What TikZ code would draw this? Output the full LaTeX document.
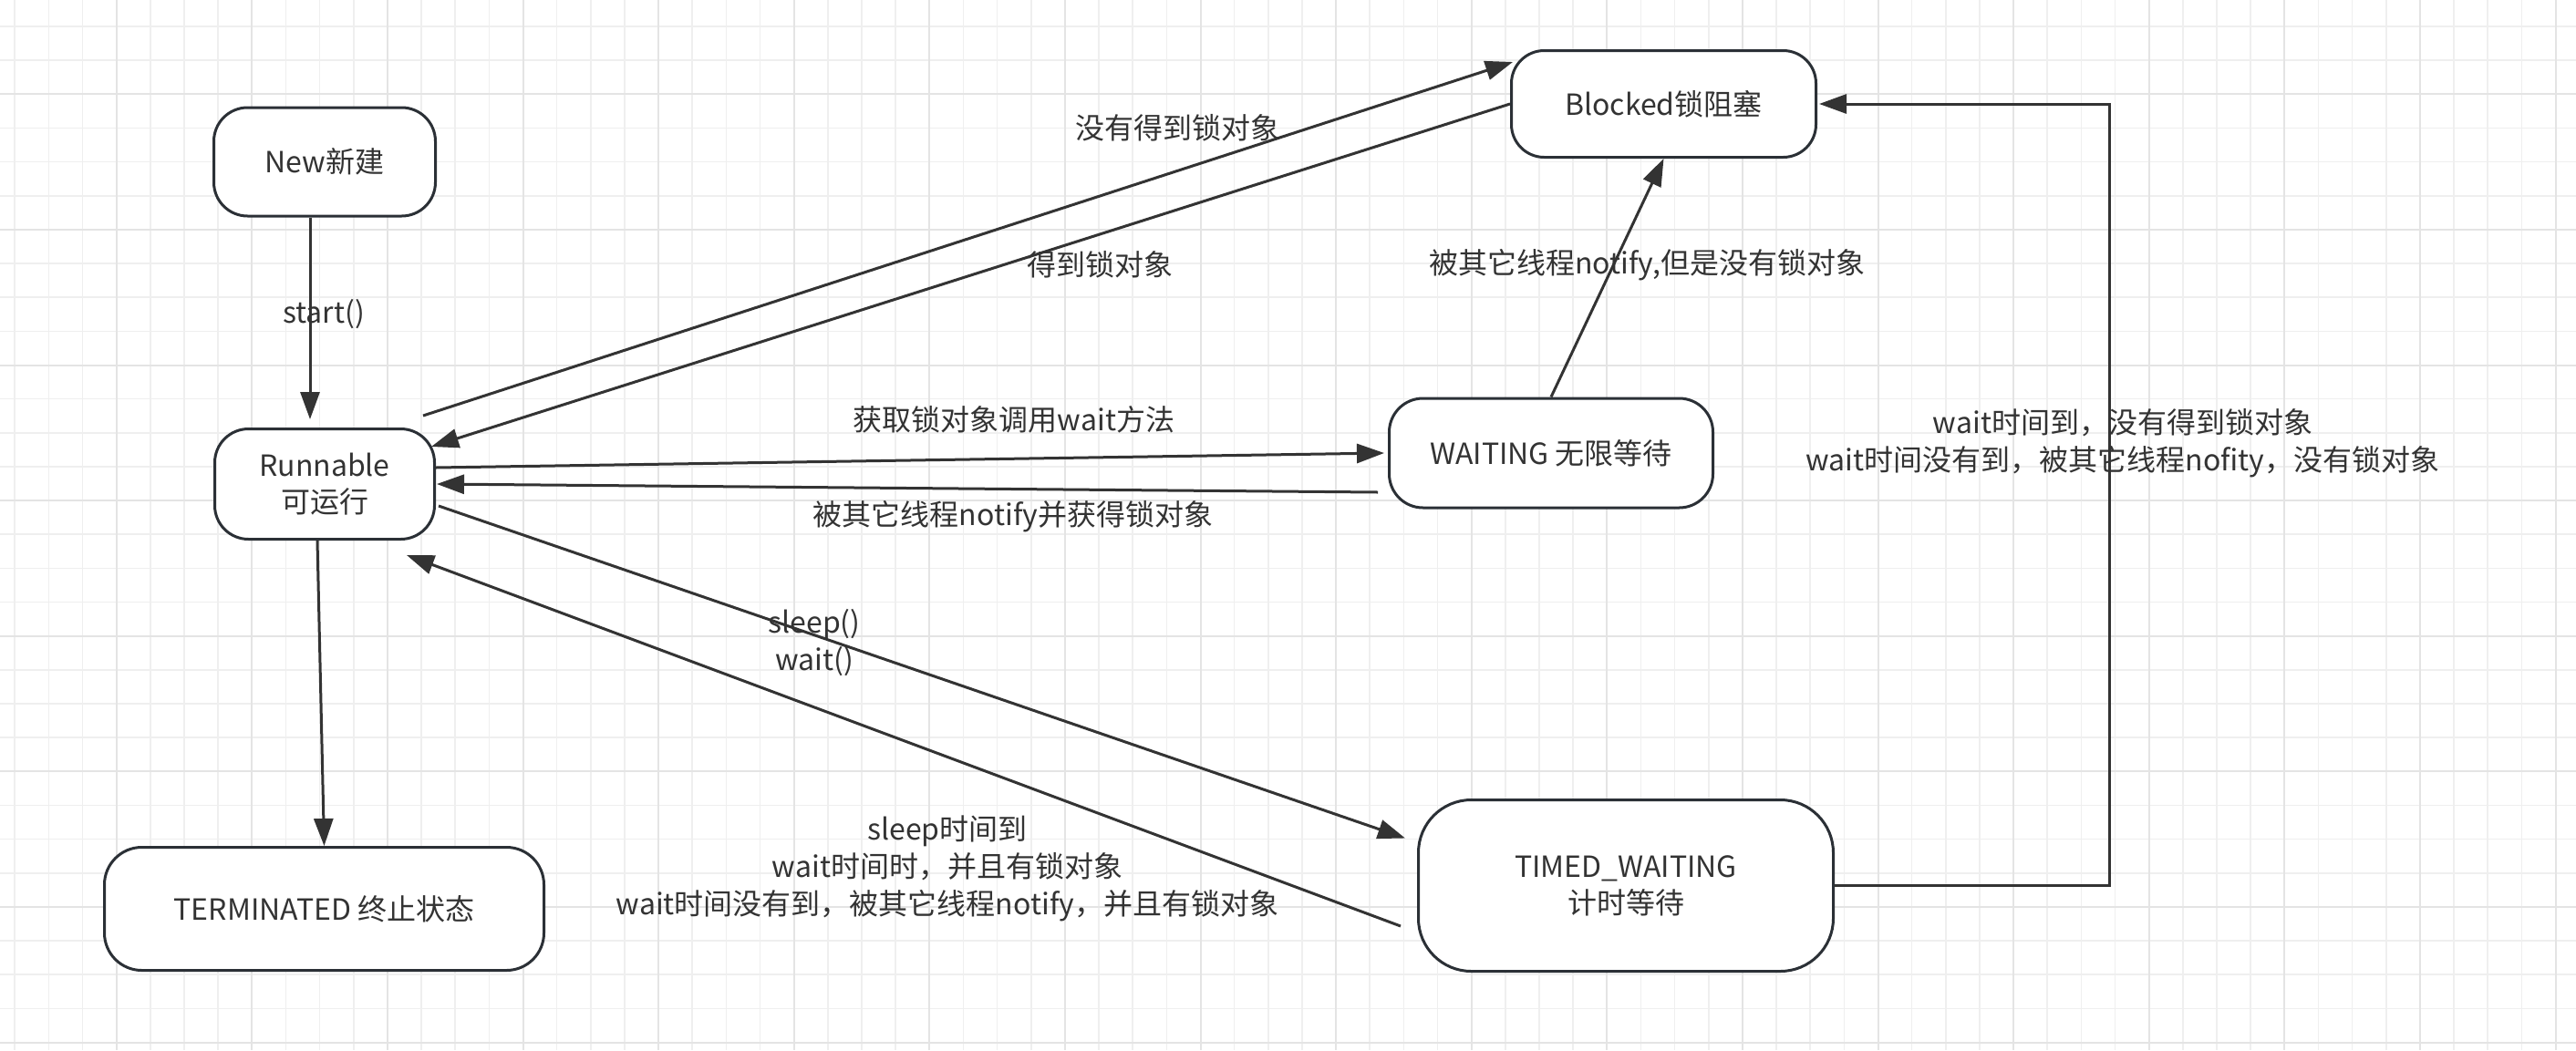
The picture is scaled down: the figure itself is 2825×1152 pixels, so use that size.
\documentclass[tikz,border=0pt]{standalone}
\usepackage{fontspec}
\setmainfont{Noto Sans CJK SC}
\usetikzlibrary{arrows.meta}
\definecolor{ink}{HTML}{333333}
\definecolor{rim}{HTML}{2B3036}
\definecolor{gridlo}{HTML}{EFEFEF}
\definecolor{gridhi}{HTML}{E4E4E4}

\begin{document}
\begin{tikzpicture}[x=1pt,y=-1pt,
  state/.style={draw=rim,line width=3pt,fill=white,align=center,text=ink,
    font=\fontsize{32}{40}\selectfont,inner sep=0pt},
  edge/.style={draw=ink,line width=3pt,-{Triangle[length=30pt,width=21pt]}},
  lbl/.style={align=center,text=ink,font=\fontsize{32}{41}\selectfont,inner sep=0pt}]
  \useasboundingbox[fill=white] (0,0) rectangle (2825,1152);
  % grid
  \foreach \i in {0,...,75} \draw[gridlo,line width=1.6pt] ({16.25+37.15*\i},0) -- ++(0,1152);
  \foreach \j in {0,...,30} \draw[gridlo,line width=1.6pt] (0,{29+37.15*\j}) -- ++(2825,0);
  \foreach \i in {0,...,18} \draw[gridhi,line width=2pt] ({127.7+148.6*\i},0) -- ++(0,1152);
  \foreach \j in {0,...,7} \draw[gridhi,line width=2pt] (0,{103.3+148.6*\j}) -- ++(2825,0);
  % states
  \node[state,minimum width=243pt,minimum height=119pt,rounded corners=37pt] (new) at (356,177.5) {New新建};
  \node[state,minimum width=241pt,minimum height=121pt,rounded corners=37pt] (run) at (356,531) {Runnable\\可运行};
  \node[state,minimum width=482pt,minimum height=135pt,rounded corners=41pt] (term) at (355.5,997) {TERMINATED 终止状态};
  \node[state,minimum width=334pt,minimum height=117pt,rounded corners=36pt] (blocked) at (1824.5,114) {Blocked锁阻塞};
  \node[state,minimum width=355pt,minimum height=120pt,rounded corners=37pt] (waiting) at (1701,497) {WAITING 无限等待};
  \node[state,minimum width=455pt,minimum height=188pt,rounded corners=58pt] (timed) at (1783,971.5) {TIMED\_WAITING\\计时等待};
  % transitions
  \draw[edge] ([xshift=-16pt]new.south) -- ([shift={(-16,-9)}]run.north);
  \draw[edge] ([shift={(-14,-13)}]run.north east) -- ([shift={(3,14)}]blocked.north west);
  \draw[edge] (blocked.west) -- ([shift={(-5,21)}]run.north east);
  \draw[edge] ([shift={(0,-18)}]run.east) -- ([xshift=-4pt]waiting.west);
  \draw[edge] ([shift={(-11,43)}]waiting.west) -- ([xshift=1pt]run.east);
  \draw[edge] (waiting.north) -- (blocked.south);
  \draw[edge] (timed.east) -- ++(301,0) |- ([xshift=2pt]blocked.east);
  \draw[edge] ([shift={(3,24)}]run.east) -- ([shift={(-13,-52)}]timed.west);
  \draw[edge] ([shift={(-18,44.5)}]timed.west) -- ([shift={(-32,16)}]run.south east);
  \draw[edge] ([xshift=-8pt]run.south) -- (term.north);
  % labels
  \node[lbl] (l_start) at (355,345) {start()};
  \node[lbl] (l_nolock) at (1291,140) {没有得到锁对象};
  \node[lbl] (l_getlock) at (1206,290) {得到锁对象};
  \node[lbl] (l_wait) at (1112,460) {获取锁对象调用wait方法};
  \node[lbl] (l_notify) at (1111,567) {被其它线程notify并获得锁对象};
  \node[lbl] (l_nolock2) at (1806,291) {被其它线程notify,但是没有锁对象};
  \node[lbl] (l_timeout) at (2328,486) {wait时间到，没有得到锁对象\\wait时间没有到，被其它线程nofity，没有锁对象};
  \node[lbl] (l_sleep) at (893,705) {sleep()\\wait()};
  \node[lbl] (l_back) at (1039,953) {sleep时间到\\wait时间时，并且有锁对象\\wait时间没有到，被其它线程notify，并且有锁对象};
\end{tikzpicture}
\end{document}
